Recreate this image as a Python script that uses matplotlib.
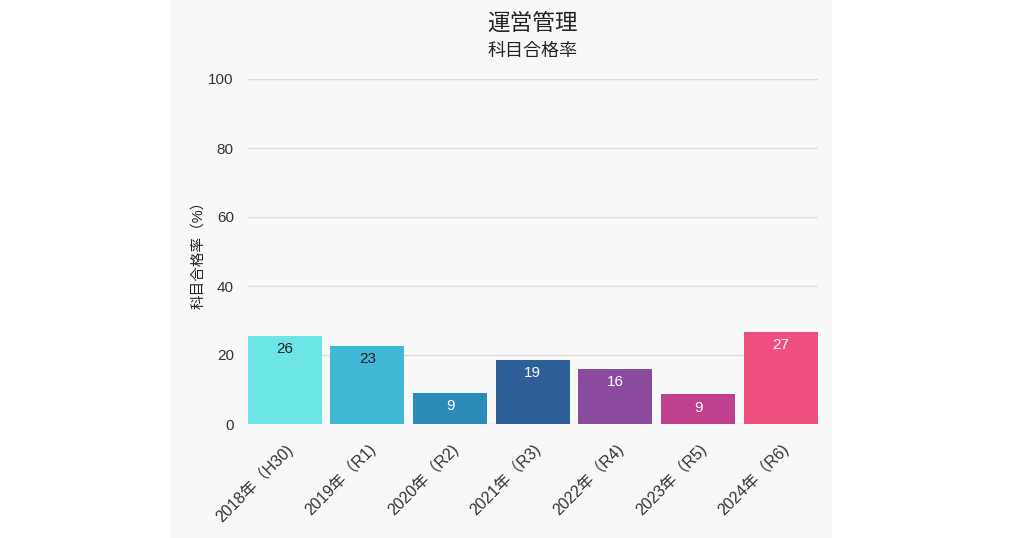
import matplotlib
matplotlib.use("Agg")
import matplotlib.pyplot as plt
from matplotlib.patches import Rectangle
import matplotlib.transforms as mtransforms

plt.rcParams['font.family'] = ['Liberation Sans', 'Noto Sans CJK JP', 'DejaVu Sans']

categories = ["2018年（H30)", "2019年（R1)", "2020年（R2)", "2021年（R3)",
              "2022年（R4)", "2023年（R5)", "2024年（R6)"]
values = [25.6, 22.7, 9.1, 18.6, 15.9, 8.6, 26.7]
colors = ["#6ce5e8", "#41b8d5", "#2d8bba", "#2f5f98", "#8a4a9e", "#c0428f", "#ef4f7e"]
label_colors = ["#222222", "#222222", "white", "white", "white", "white", "white"]
yticks = [0, 20, 40, 60, 80, 100]

W, H = 1024, 538
fig = plt.figure(figsize=(W / 100, H / 100), dpi=100)
fig.patch.set_facecolor("white")
fig.patches.append(Rectangle((170 / W, 0), (832 - 170) / W, 1, transform=fig.transFigure,
                             facecolor="#f8f8f8", edgecolor="none", zorder=-10))

ax = fig.add_axes([247.7 / W, 1 - 424 / H, (817.7 - 247.7) / W, (424 - 79) / H])
ax.set_facecolor("none")
bw = 0.895
x = list(range(len(categories)))
bars = ax.bar(x, values, width=bw, color=colors, zorder=3)
for b, v, lc in zip(bars, values, label_colors):
    ax.text(b.get_x() + b.get_width() / 2, v - 1.8, f"{round(v):d}", ha="center", va="top",
            fontsize=11, color=lc, zorder=4)

ax.set_xlim(-bw / 2, len(categories) - 1 + bw / 2)
ax.set_ylim(0, 100)
ax.set_yticks(yticks)
ax.set_yticklabels([str(t) for t in yticks], fontsize=11, color="#333333")
ax.set_xticks(x)
ax.set_xticklabels(categories, rotation=45, ha="right", rotation_mode="anchor",
                   fontsize=11.5, color="#333333")
offset = mtransforms.ScaledTranslation(-2 / 100, 0, fig.dpi_scale_trans)
for lab in ax.get_xticklabels():
    lab.set_transform(lab.get_transform() + offset)
ax.tick_params(axis="both", length=0)
ax.tick_params(axis="y", pad=10)
ax.tick_params(axis="x", pad=12)
ax.grid(axis="y", color="#dddddd", linewidth=1, zorder=0)
for s in ax.spines.values():
    s.set_visible(False)
ax.set_ylabel("科目合格率（%）", fontsize=10.5, color="#222222", labelpad=2)

fig.text(532.7 / W, 1 - 23 / H, "運営管理", ha="center", va="center", fontsize=16.3,
         color="#222222")
fig.text(532.7 / W, 1 - 51 / H, "科目合格率", ha="center", va="center", fontsize=13,
         color="#222222")

fig.savefig("out.png", dpi=100, facecolor=fig.get_facecolor())
